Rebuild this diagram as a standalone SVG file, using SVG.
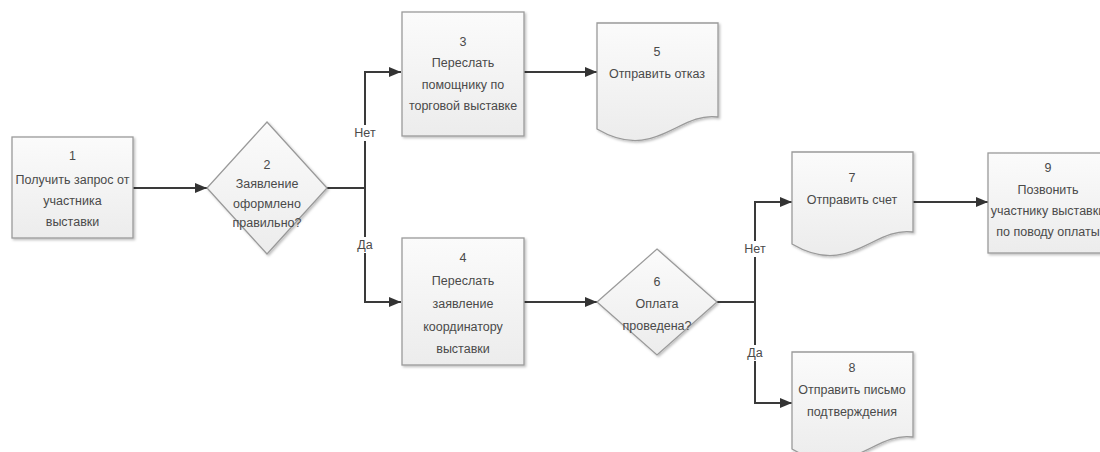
<svg xmlns="http://www.w3.org/2000/svg" width="1100" height="452" viewBox="0 0 1100 452">
  <defs>
    <linearGradient id="fillGrad" x1="0" y1="0" x2="0" y2="1">
      <stop offset="0" stop-color="#fbfbfb"/>
      <stop offset="1" stop-color="#ececec"/>
    </linearGradient>
    <filter id="shadow" x="-10%" y="-10%" width="130%" height="130%">
      <feDropShadow dx="1.5" dy="1.5" stdDeviation="1" flood-color="#000" flood-opacity="0.25"/>
    </filter>
    <marker id="arrow" viewBox="0 0 12 10" refX="12" refY="5" markerWidth="12" markerHeight="10" markerUnits="userSpaceOnUse" orient="auto">
      <path d="M0,0 L12,5 L0,10 Z" fill="#333"/>
    </marker>
  </defs>
  <style>
    .shape { fill: url(#fillGrad); stroke: #9a9a9a; stroke-width: 1.3; filter: url(#shadow); }
    .label { font-family: "Liberation Sans", Arial, sans-serif; font-size: 12.5px; fill: #4a4a4a; text-anchor: middle; dominant-baseline: central; }
    .edge { fill: none; stroke: #3a3a3a; stroke-width: 2; }
    .arrowed { marker-end: url(#arrow); }
    .tagbg { fill: #fff; }
  </style>

  <rect width="1100" height="452" fill="#fff"/>

  <!-- connectors -->
  <g id="connectors">
    <path class="edge arrowed" d="M133,188 H207"/>
    <path class="edge" d="M327,188 H365"/>
    <path class="edge arrowed" d="M365,188 V72 H401"/>
    <path class="edge arrowed" d="M365,188 V302 H401"/>
    <path class="edge arrowed" d="M524,72 H597"/>
    <path class="edge arrowed" d="M524,302 H597"/>
    <path class="edge" d="M717,302 H755"/>
    <path class="edge arrowed" d="M755,302 V202 H792"/>
    <path class="edge arrowed" d="M755,302 V403 H792"/>
    <path class="edge arrowed" d="M913,202 H988"/>
    <g id="edge-labels">
      <rect class="tagbg" x="352" y="125" width="26" height="16"/>
      <text class="label" x="365" y="133">Нет</text>
      <rect class="tagbg" x="354" y="237" width="22" height="16"/>
      <text class="label" x="365" y="245">Да</text>
      <rect class="tagbg" x="742" y="241" width="26" height="16"/>
      <text class="label" x="755" y="249">Нет</text>
      <rect class="tagbg" x="744" y="345" width="22" height="16"/>
      <text class="label" x="755" y="353">Да</text>
    </g>
  </g>

  <!-- 1: process -->
  <g id="node1">
    <rect class="shape" x="12" y="137" width="121" height="101"/>
    <text class="label" x="72.5" y="156">1</text>
    <text class="label" x="72.5" y="180">Получить запрос от</text>
    <text class="label" x="72.5" y="201">участника</text>
    <text class="label" x="72.5" y="222">выставки</text>
  </g>

  <!-- 2: decision -->
  <g id="node2">
    <path class="shape" d="M267,122 L327,188 L267,254 L207,188 Z"/>
    <text class="label" x="267" y="165">2</text>
    <text class="label" x="267" y="184">Заявление</text>
    <text class="label" x="267" y="204">оформлено</text>
    <text class="label" x="267" y="223">правильно?</text>
  </g>

  <!-- 3: process -->
  <g id="node3">
    <rect class="shape" x="402" y="12" width="122" height="124"/>
    <text class="label" x="463" y="42">3</text>
    <text class="label" x="463" y="63">Переслать</text>
    <text class="label" x="463" y="85">помощнику по</text>
    <text class="label" x="463" y="106">торговой выставке</text>
  </g>

  <!-- 4: process -->
  <g id="node4">
    <rect class="shape" x="402" y="238" width="122" height="127"/>
    <text class="label" x="463" y="258">4</text>
    <text class="label" x="463" y="281">Переслать</text>
    <text class="label" x="463" y="304">заявление</text>
    <text class="label" x="463" y="327">координатору</text>
    <text class="label" x="463" y="349">выставки</text>
  </g>

  <!-- 5: document -->
  <g id="node5">
    <path class="shape" d="M597,23 H718 V117 C678,111 655,163 597,129 Z"/>
    <text class="label" x="657" y="52">5</text>
    <text class="label" x="657" y="74">Отправить отказ</text>
  </g>

  <!-- 6: decision -->
  <g id="node6">
    <path class="shape" d="M657,249 L717,302 L657,355 L597,302 Z"/>
    <text class="label" x="657" y="282">6</text>
    <text class="label" x="657" y="304">Оплата</text>
    <text class="label" x="657" y="326">проведена?</text>
  </g>

  <!-- 7: document -->
  <g id="node7">
    <path class="shape" d="M792,152 H913 V232 C873,226 850,278 792,244 Z"/>
    <text class="label" x="852" y="178">7</text>
    <text class="label" x="852" y="200">Отправить счет</text>
  </g>

  <!-- 8: document -->
  <g id="node8">
    <path class="shape" d="M792,352 H913 V437 C873,431 850,483 792,449 Z"/>
    <text class="label" x="852" y="368">8</text>
    <text class="label" x="852" y="390">Отправить письмо</text>
    <text class="label" x="852" y="412">подтверждения</text>
  </g>

  <!-- 9: process -->
  <g id="node9">
    <rect class="shape" x="988" y="153" width="121" height="100"/>
    <text class="label" x="1048" y="168">9</text>
    <text class="label" x="1048" y="190">Позвонить</text>
    <text class="label" x="1048" y="211">участнику выставки</text>
    <text class="label" x="1048" y="232">по поводу оплаты</text>
  </g>
</svg>
